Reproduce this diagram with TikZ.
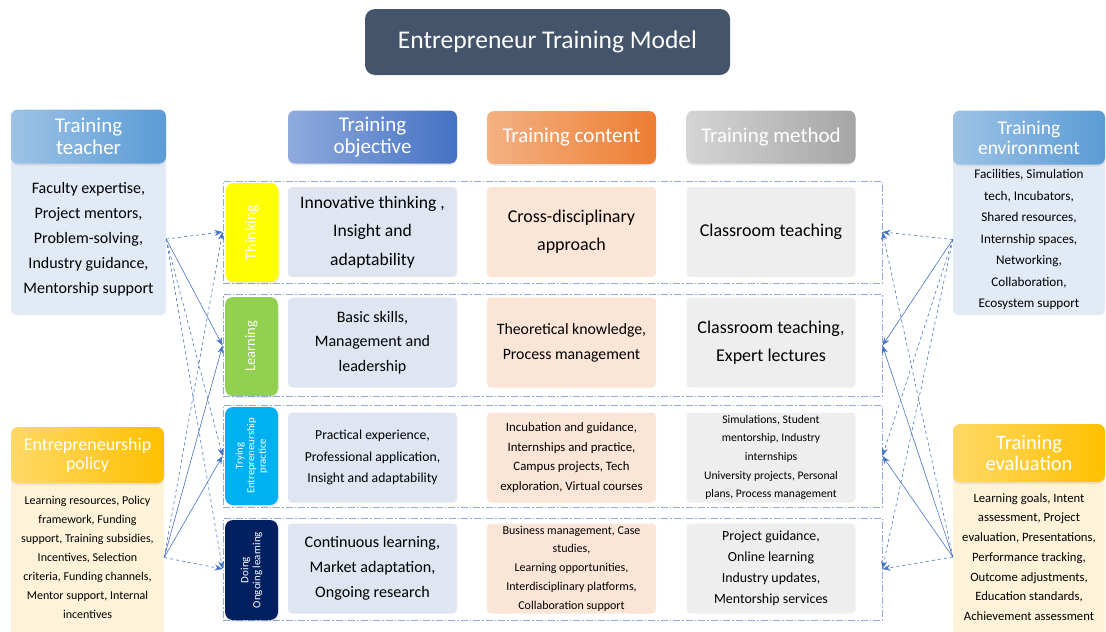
\documentclass[tikz,border=0pt]{standalone}
\usepackage{fontspec}
\setmainfont{Carlito}
\usetikzlibrary{arrows.meta,shadows}

\definecolor{titlefill}{HTML}{44546A}
\definecolor{teachlight}{HTML}{9DC3E6}
\definecolor{teachdark}{HTML}{5B9BD5}
\definecolor{teachbody}{HTML}{E2EAF6}
\definecolor{goldlight}{HTML}{FFD966}
\definecolor{golddark}{HTML}{FFC000}
\definecolor{goldbody}{HTML}{FEF3D8}
\definecolor{objlight}{HTML}{8FAADC}
\definecolor{objdark}{HTML}{4472C4}
\definecolor{conlight}{HTML}{F4B183}
\definecolor{condark}{HTML}{ED7D31}
\definecolor{metlight}{HTML}{D5D5D5}
\definecolor{metdark}{HTML}{A5A5A5}
\definecolor{objfill}{HTML}{DFE6F2}
\definecolor{confill}{HTML}{FBE5D6}
\definecolor{metfill}{HTML}{EEEEEE}
\definecolor{framecol}{HTML}{8FAADC}
\definecolor{linkcol}{HTML}{4472C4}
\definecolor{thinkcol}{HTML}{FFFF00}
\definecolor{learncol}{HTML}{92D050}
\definecolor{trycol}{HTML}{00B0F0}
\definecolor{docol}{HTML}{002060}

\begin{document}
\begin{tikzpicture}[x=1pt, y=-1pt,
    hdr/.style={rounded corners=7pt, text=white, align=center, inner sep=0pt, minimum width=169pt, minimum height=53pt, font=\fontsize{21}{22}\selectfont, drop shadow={shadow xshift=0pt, shadow yshift=-2pt, opacity=0.15}},
    sidehdr/.style={hdr, minimum width=154pt, minimum height=54pt},
    cell/.style={rounded corners=4pt, align=center, inner sep=0pt, minimum width=169pt, minimum height=90pt},
    tagbox/.style={rounded corners=8pt, rotate=90, text=white, align=center, inner sep=0pt, minimum width=99pt, minimum height=53pt, drop shadow={shadow xshift=1pt, shadow yshift=-2pt, opacity=0.15}},
    rowframe/.style={draw=framecol, line width=0.9pt, dash pattern=on 7pt off 2pt on 1.5pt off 2pt, minimum width=659pt, minimum height=102pt, inner sep=0pt},
    link/.style={draw=linkcol, line width=0.6pt, -{Stealth[length=8pt, width=6pt]}}]
    \useasboundingbox (0,0) rectangle (1106,632);

    \node[fill=titlefill, rounded corners=10pt, text=white, minimum width=365pt, minimum height=66pt, font=\fontsize{25.5}{27}\selectfont] (title) at (547.5, 42) {Entrepreneur Training Model};

    \node[hdr, left color=objlight, right color=objdark] (objhdr) at (372.5, 137) {Training\\objective};
    \node[hdr, left color=conlight, right color=condark] (conhdr) at (571.5, 137.5) {Training content};
    \node[hdr, left color=metlight, right color=metdark] (methdr) at (771, 137) {Training method};

    \fill[teachbody, rounded corners=5pt] (11, 140) rectangle (166, 315);
    \node[sidehdr, minimum width=155pt, left color=teachlight, right color=teachdark] (teachhdr) at (88.5, 136.5) {Training\\teacher};
    \node[align=center, minimum width=155pt, minimum height=152pt, inner sep=0pt, font=\fontsize{16}{25}\selectfont] (tbody) at (88.5, 239) {Faculty expertise,\\Project mentors,\\Problem-solving,\\Industry guidance,\\Mentorship support};

    \fill[goldbody, rounded corners=5pt] (11, 460) rectangle (164, 640);
    \node[sidehdr, minimum width=153pt, minimum height=56pt, left color=goldlight, right color=golddark, font=\fontsize{18}{19.5}\selectfont] (polhdr) at (87.5, 455) {Entrepreneurship\\policy};
    \node[align=center, minimum width=153pt, minimum height=149pt, inner sep=0pt, font=\fontsize{12}{19}\selectfont] (pbody) at (87.5, 557.5) {Learning resources, Policy\\framework, Funding\\support, Training subsidies,\\Incentives, Selection\\criteria, Funding channels,\\Mentor support, Internal\\incentives};

    \fill[teachbody, rounded corners=5pt] (953, 140) rectangle (1105, 315);
    \node[sidehdr, minimum width=152pt, left color=teachlight, right color=teachdark, font=\fontsize{19.5}{20}\selectfont] (envhdr) at (1029, 137.5) {Training\\environment};
    \node[align=center, minimum width=152pt, minimum height=151pt, inner sep=0pt, font=\fontsize{13.2}{21.5}\selectfont] (ebody) at (1029, 239.5) {Facilities, Simulation\\tech, Incubators,\\Shared resources,\\Internship spaces,\\Networking,\\Collaboration,\\Ecosystem support};

    \fill[goldbody, rounded corners=5pt] (953, 460) rectangle (1105, 640);
    \node[sidehdr, minimum width=152pt, minimum height=58pt, left color=goldlight, right color=golddark, font=\fontsize{20.5}{20.5}\selectfont] (evalhdr) at (1029, 453) {Training\\evaluation};
    \node[align=center, minimum width=152pt, minimum height=150pt, inner sep=0pt, font=\fontsize{12.7}{19.7}\selectfont] (vbody) at (1029, 557) {Learning goals, Intent\\assessment, Project\\evaluation, Presentations,\\Performance tracking,\\Outcome adjustments,\\Education standards,\\Achievement assessment};

    \node[rowframe] (frame1) at (552.5, 232) {};
    \node[rowframe] (frame2) at (552.5, 345.5) {};
    \node[rowframe] (frame3) at (552.5, 456) {};
    \node[rowframe] (frame4) at (552.5, 569) {};

    \node[tagbox, fill=thinkcol, font=\fontsize{16}{18}\selectfont] (think) at (252, 232.5) {Thinking};
    \node[tagbox, fill=learncol, font=\fontsize{14.5}{16}\selectfont] (learn) at (251.5, 346.5) {Learning};
    \node[tagbox, minimum width=98pt, fill=trycol, font=\fontsize{10.7}{11.5}\selectfont] (try) at (251.5, 456) {Trying\\Entrepreneurship\\practice};
    \node[tagbox, minimum width=100pt, fill=docol, font=\fontsize{11}{12}\selectfont] (do) at (251.5, 570) {Doing\\Ongoing learning};

    \node[cell, fill=objfill, font=\fontsize{17.6}{28.5}\selectfont] (obj1) at (372.5, 232) {Innovative thinking ,\\Insight and\\adaptability};
    \node[cell, fill=confill, font=\fontsize{18}{28}\selectfont] (con1) at (571.5, 232) {Cross-disciplinary\\approach};
    \node[cell, fill=metfill, font=\fontsize{18}{28}\selectfont] (met1) at (771, 232) {Classroom teaching};

    \node[cell, fill=objfill, font=\fontsize{16}{24.5}\selectfont] (obj2) at (372.5, 342.5) {Basic skills,\\Management and\\leadership};
    \node[cell, fill=confill, font=\fontsize{15.8}{25}\selectfont] (con2) at (571.5, 342.5) {Theoretical knowledge,\\Process management};
    \node[cell, fill=metfill, font=\fontsize{18}{28}\selectfont] (met2) at (771, 342.5) {Classroom teaching,\\Expert lectures};

    \node[cell, fill=objfill, font=\fontsize{13.7}{21.5}\selectfont] (obj3) at (372.5, 457.5) {Practical experience,\\Professional application,\\Insight and adaptability};
    \node[cell, fill=confill, font=\fontsize{12.8}{19.5}\selectfont] (con3) at (571.5, 457.5) {Incubation and guidance,\\Internships and practice,\\Campus projects, Tech\\exploration, Virtual courses};
    \node[cell, fill=metfill, font=\fontsize{11.6}{18.7}\selectfont] (met3) at (771, 457.5) {Simulations, Student\\mentorship, Industry\\internships\\University projects, Personal\\plans, Process management};

    \node[cell, fill=objfill, font=\fontsize{16.1}{25}\selectfont] (obj4) at (372.5, 568.5) {Continuous learning,\\Market adaptation,\\Ongoing research};
    \node[cell, fill=confill, font=\fontsize{12}{18.8}\selectfont] (con4) at (571.5, 568.5) {Business management, Case\\studies,\\Learning opportunities,\\Interdisciplinary platforms,\\Collaboration support};
    \node[cell, fill=metfill, font=\fontsize{13.9}{21}\selectfont] (met4) at (771, 568.5) {Project guidance,\\Online learning\\Industry updates,\\Mentorship services};

    \draw[link, dashed] (tbody.east) -- (frame1.west);
    \draw[link] (tbody.east) -- (frame2.west);
    \draw[link, dashed] (tbody.east) -- (frame3.west);
    \draw[link, dashed] (tbody.east) -- (frame4.west);
    \draw[link, dashed] (pbody.east) -- (frame1.west);
    \draw[link] (pbody.east) -- (frame2.west);
    \draw[link] (pbody.east) -- (frame3.west);
    \draw[link, dashed] (pbody.east) -- (frame4.west);

    \draw[link, dashed] (ebody.west) -- (frame1.east);
    \draw[link] (ebody.west) -- (frame2.east);
    \draw[link, dashed] (ebody.west) -- (frame3.east);
    \draw[link, dashed] (ebody.west) -- (frame4.east);
    \draw[link, dashed] (vbody.west) -- (frame1.east);
    \draw[link] (vbody.west) -- (frame2.east);
    \draw[link] (vbody.west) -- (frame3.east);
    \draw[link, dashed] (vbody.west) -- (frame4.east);
\end{tikzpicture}
\end{document}
